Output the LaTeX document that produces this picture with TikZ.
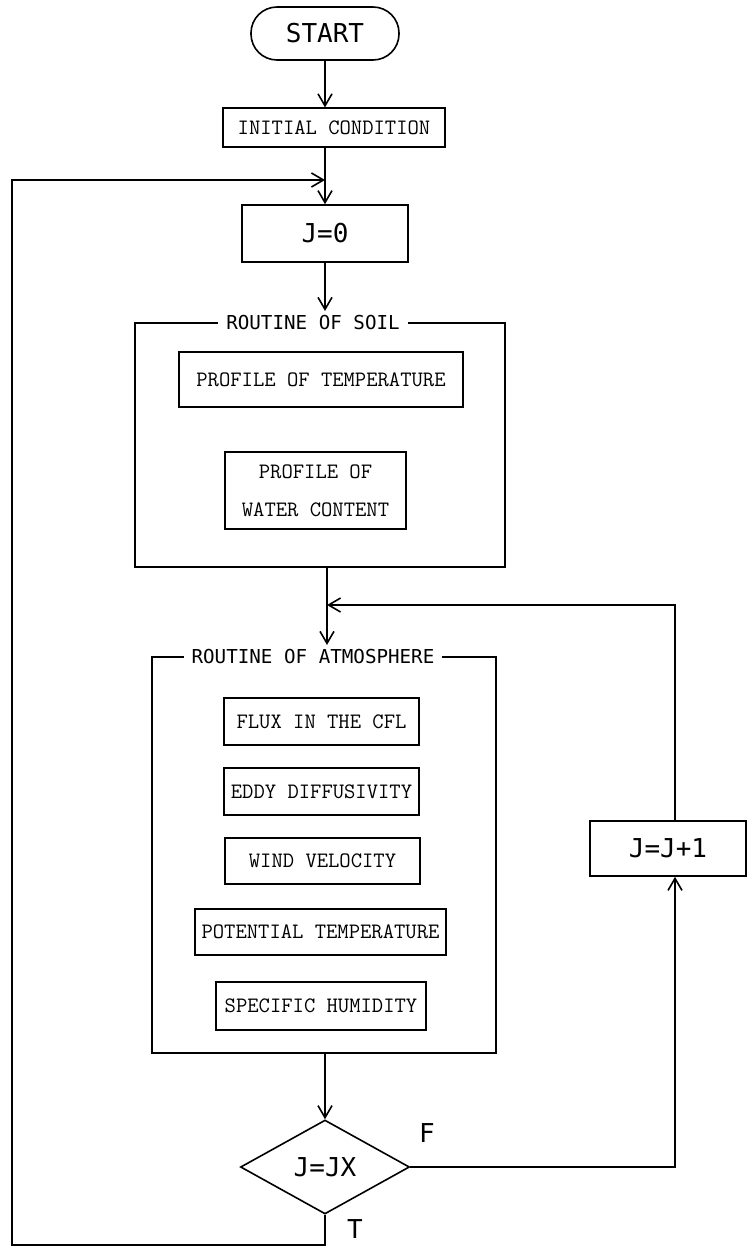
\documentclass[tikz,border=0pt]{standalone}
\usepackage{fontspec}
\usepackage{tikz}
\usetikzlibrary{shapes.geometric,arrows.meta}
\newfontfamily\labelfont{DejaVu Sans Mono}
\tikzstyle{termbox} = [draw, thick, rounded corners = 13pt, minimum width = 74pt, minimum height = 26.5pt, inner sep = 0pt, font = \labelfont\fontsize{13}{15}\selectfont]
\tikzstyle{countbox} = [draw, thick, inner sep = 0pt, minimum height = 28.5pt, font = \labelfont\fontsize{13}{15}\selectfont]
\tikzstyle{stepbox} = [draw, semithick, inner sep = 0pt, align = center, font = \ttfamily\fontsize{11}{19}\selectfont\addfontfeature{FakeBold=1.2}]
\tikzstyle{routine} = [draw, thick, inner sep = 0pt]
\tikzstyle{routinetitle} = [fill = white, inner xsep = 4pt, inner ysep = 2pt, font = \labelfont\fontsize{9.6}{11}\selectfont]
\tikzstyle{decide} = [diamond, draw, thick, inner sep = 0pt, minimum width = 84.5pt, minimum height = 47pt, font = \labelfont\fontsize{13}{15}\selectfont]
\tikzstyle{flag} = [inner sep = 0pt, anchor = base, font = \labelfont\fontsize{13}{15}\selectfont]

\begin{document}
\begin{tikzpicture}[x = 0.5pt, y = -0.5pt, thick, >={Straight Barb[length = 6pt, width = 7pt]}]
        \useasboundingbox (0, 0) rectangle (748, 1247);
        % main column
        \node (start) at (325, 33.5) [termbox] {START};
        \node (init) at (334, 127.5) [stepbox, minimum width = 111pt, minimum height = 19.5pt] {INITIAL CONDITION};
        \node (jzero) at (325, 233.5) [countbox, minimum width = 83pt] {J=0};
        % soil routine
        \node (soil) at (320, 445) [routine, minimum width = 185pt, minimum height = 122pt] {};
        \node (soiltitle) at (313, 323) [routinetitle] {ROUTINE OF SOIL};
        \node (ptemp) at (321, 379.5) [stepbox, minimum width = 142pt, minimum height = 27.5pt] {PROFILE OF TEMPERATURE};
        \node (pwater) at (315.5, 490.5) [stepbox, minimum width = 90.5pt, minimum height = 38.5pt] {PROFILE OF\\WATER CONTENT};
        % atmosphere routine
        \node (atmos) at (324, 855) [routine, minimum width = 172pt, minimum height = 198pt] {};
        \node (atmostitle) at (313, 657) [routinetitle] {ROUTINE OF ATMOSPHERE};
        \node (flux) at (321.5, 721.5) [stepbox, minimum width = 97.5pt, minimum height = 23.5pt] {FLUX IN THE CFL};
        \node (eddy) at (321.5, 791.5) [stepbox, minimum width = 97.5pt, minimum height = 23.5pt] {EDDY DIFFUSIVITY};
        \node (wind) at (322.5, 861) [stepbox, minimum width = 97.5pt, minimum height = 23pt] {WIND VELOCITY};
        \node (pottemp) at (320.5, 932) [stepbox, minimum width = 125.5pt, minimum height = 23pt] {POTENTIAL TEMPERATURE};
        \node (spechum) at (321, 1006) [stepbox, minimum width = 105pt, minimum height = 24pt] {SPECIFIC HUMIDITY};
        % test and counter
        \node (test) at (325, 1167) [decide] {J=JX};
        \node (flagf) at (427, 1142) [flag] {F};
        \node (flagt) at (355, 1238) [flag] {T};
        \node (jinc) at (668, 848.5) [countbox, minimum width = 78pt, minimum height = 27.5pt] {J=J+1};
        \coordinate (merge) at (327, 605);
        \coordinate (rline) at (675, 605);
        \coordinate (lbot) at (12, 1245);
        \coordinate (ltop) at (12, 180);
        \draw [->] (start) -- (start |- init.north);
        \draw [->] (init.south -| jzero) -- (jzero.north);
        \draw [->] (jzero) -- (jzero |- soiltitle.north);
        \draw (soil.south -| merge) -- (merge);
        \draw [->] (merge) -- (merge |- atmostitle.north);
        \draw [->] (atmos.south -| test) -- (test.north);
        \draw [->] (test.east) -- (test.east -| rline) -- (jinc.south -| rline);
        \draw [->] (jinc.north -| rline) -- (rline) -- (merge);
        \draw [->] (test.south) -- (test.south |- lbot) -- (lbot) -- (ltop) -- (ltop -| jzero);
    \end{tikzpicture}
\end{document}
